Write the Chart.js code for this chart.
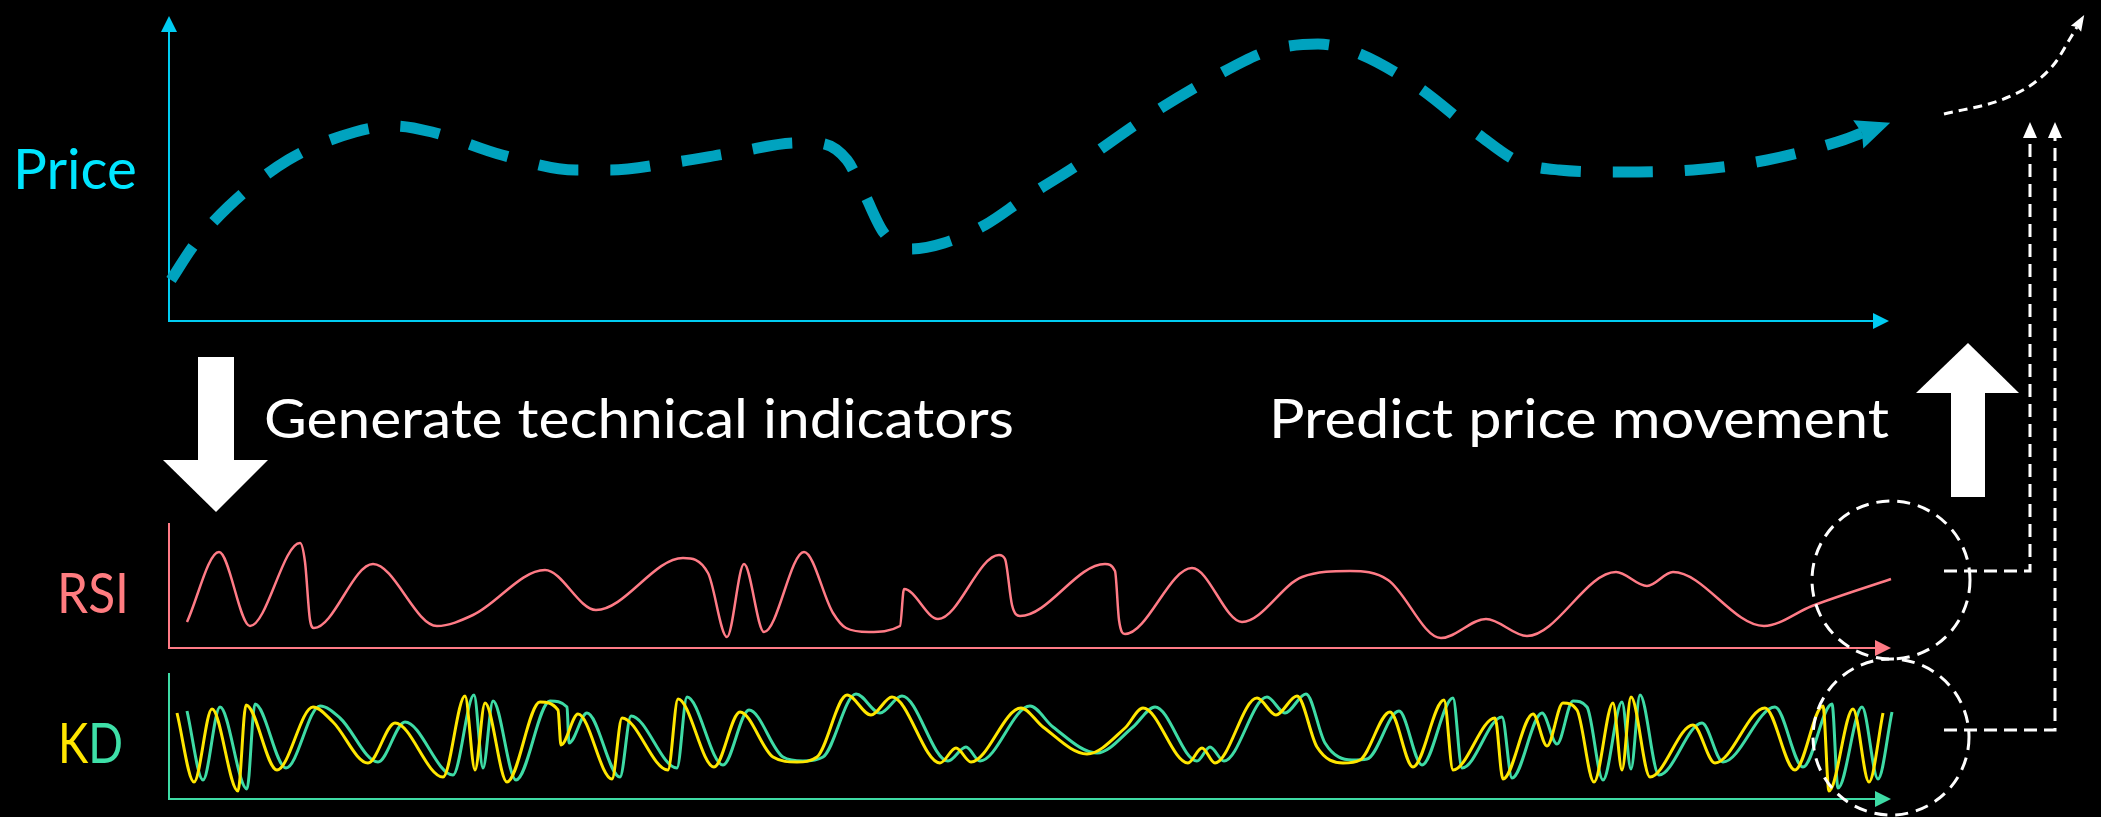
<!DOCTYPE html>
<html>
<head>
<meta charset="utf-8">
<title>Price, RSI and KD</title>
<script src="https://cdn.jsdelivr.net/npm/chart.js@4.4.1/dist/chart.umd.min.js"></script>
<style>
  html, body { margin: 0; background: #000; }
  #stage { position: relative; width: 2101px; height: 817px; overflow: hidden; background: #000; }
  #stage canvas, #stage svg { position: absolute; left: 0; top: 0; }
  text { font-family: Lato, "Open Sans", sans-serif; }
</style>
</head>
<body>
<div id="stage">
  <canvas id="priceChart" width="2101" height="817"></canvas>
  <canvas id="rsiChart" width="2101" height="817"></canvas>
  <canvas id="kdChart" width="2101" height="817"></canvas>
  <svg width="2101" height="817">
    <text x="13" y="189" font-size="57" fill="#00E5FF" textLength="124" lengthAdjust="spacingAndGlyphs">Price</text>
    <text x="57" y="613" font-size="56" fill="#FF7C80" textLength="72" lengthAdjust="spacingAndGlyphs">RSI</text>
    <text x="58" y="763" font-size="56" textLength="65" lengthAdjust="spacingAndGlyphs"><tspan fill="#FFE600">K</tspan><tspan fill="#3EE0A8">D</tspan></text>
    <text x="264" y="438" font-size="54" fill="#FFFFFF" textLength="750" lengthAdjust="spacingAndGlyphs">Generate technical indicators</text>
    <text x="1269" y="438" font-size="54" fill="#FFFFFF" textLength="620" lengthAdjust="spacingAndGlyphs">Predict price movement</text>
  </svg>
</div>
<script>
// time runs from the y axis (0) to the x-axis arrow tip (1722)
const priceT = [2, 25, 59, 119, 186, 226, 263, 333, 407, 441, 501, 568, 628, 648, 678, 695, 715, 742, 775, 816, 856, 904, 981, 1045, 1102, 1149, 1186, 1249, 1310, 1350, 1390, 1450, 1524, 1598, 1668, 1693];
const priceV = [41, 76, 114, 161, 189, 195, 189, 166, 151, 151, 158, 169, 178, 178, 161, 128, 88, 72, 78, 96, 123, 153, 206, 244, 271, 277, 269, 234, 186, 159, 151, 149, 151, 161, 179, 188];

// predicted move, past the end of the price axis
const forecastT = [1775, 1832, 1865, 1886, 1902, 1908];
const forecastV = [207, 221, 238, 258, 284, 294];

const rsiT = [18, 50, 81, 131, 136, 141, 145, 204, 268, 304, 376, 427, 514, 539, 558, 575, 595, 635, 664, 677, 700, 731, 735, 769, 830, 836, 843, 851, 936, 946, 950, 956, 1023, 1073, 1133, 1181, 1219, 1272, 1317, 1358, 1447, 1478, 1504, 1595, 1643, 1722];
const rsiV = [26, 96, 22, 105, 86, 28, 20, 84, 22, 33, 78, 38, 90, 75, 11, 84, 16, 96, 35, 20, 16, 22, 59, 29, 93, 89, 43, 32, 84, 77, 28, 14, 80, 26, 71, 77, 68, 10, 29, 12, 76, 62, 76, 22, 42, 69];

// K line (yellow)
const kT = [8, 25, 43, 69, 77, 108, 144, 164, 199, 226, 274, 296, 306, 316, 338, 371, 389, 392, 409, 443, 453, 499, 509, 545, 571, 604, 628, 648, 678, 702, 723, 771, 787, 802, 852, 874, 918, 956, 974, 1019, 1033, 1046, 1088, 1107, 1128, 1148, 1174, 1191, 1221, 1244, 1275, 1284, 1326, 1334, 1364, 1378, 1394, 1408, 1425, 1444, 1453, 1462, 1481, 1524, 1546, 1596, 1626, 1654, 1660, 1684, 1700, 1714];
const kV = [86, 17, 90, 8, 94, 29, 92, 77, 36, 76, 22, 103, 29, 96, 17, 97, 89, 54, 85, 20, 81, 29, 100, 32, 87, 42, 37, 42, 104, 84, 102, 36, 51, 37, 91, 72, 45, 71, 91, 36, 51, 36, 101, 84, 103, 52, 36, 39, 87, 32, 99, 29, 81, 20, 85, 53, 96, 89, 17, 96, 29, 102, 22, 74, 36, 91, 29, 93, 8, 90, 17, 86];

// D line (green)
const dT = [18, 34, 51, 78, 86, 117, 151, 171, 209, 236, 284, 305, 314, 324, 347, 381, 398, 400, 418, 451, 462, 508, 518, 554, 580, 614, 634, 654, 687, 711, 733, 779, 797, 811, 861, 884, 928, 964, 986, 1028, 1041, 1055, 1098, 1116, 1137, 1156, 1183, 1198, 1230, 1253, 1284, 1293, 1333, 1343, 1373, 1388, 1404, 1418, 1434, 1453, 1462, 1471, 1490, 1533, 1554, 1606, 1634, 1663, 1669, 1693, 1709, 1723];
const dV = [88, 19, 92, 10, 95, 31, 93, 81, 37, 77, 24, 104, 31, 98, 19, 98, 92, 56, 86, 22, 83, 31, 102, 34, 89, 42, 38, 42, 105, 86, 103, 38, 52, 38, 93, 72, 46, 72, 92, 38, 52, 38, 102, 86, 105, 56, 39, 40, 88, 34, 101, 31, 82, 21, 86, 55, 98, 92, 19, 97, 30, 104, 24, 76, 37, 92, 32, 95, 11, 92, 20, 87];

const pts = (xs, ys) => xs.map((x, i) => ({x: x, y: ys[i]}));

function arrowHead(ctx, tx, ty, dx, dy, len, half) {
  const bx = tx - dx * len, by = ty - dy * len;
  ctx.beginPath();
  ctx.moveTo(tx, ty);
  ctx.lineTo(bx - dy * half, by + dx * half);
  ctx.lineTo(bx + dy * half, by - dx * half);
  ctx.closePath();
  ctx.fill();
}

// axis lines with arrow tips, drawn from the panel scales
const axisArrows = {
  id: 'axisArrows',
  beforeDatasetsDraw(chart, args, o) {
    const ctx = chart.ctx, x = chart.scales.x, y = chart.scales.y;
    const left = x.getPixelForValue(0), base = y.getPixelForValue(0);
    const tipX = x.getPixelForValue(o.xTip), topY = y.getPixelForValue(o.yTip);
    ctx.save();
    ctx.strokeStyle = o.color;
    ctx.fillStyle = o.color;
    ctx.lineWidth = 2;
    ctx.beginPath();
    ctx.moveTo(left, o.yHead ? topY + o.yHead - 2 : topY);
    ctx.lineTo(left, base);
    ctx.lineTo(tipX - 6, base);
    ctx.stroke();
    arrowHead(ctx, tipX, base, 1, 0, 16, 8);
    if (o.yHead) arrowHead(ctx, left, topY, 0, -1, o.yHead, 8);
    ctx.restore();
  }
};

// arrow at the end of a dataset line
const lineEnds = {
  id: 'lineEnds',
  afterDatasetsDraw(chart) {
    const ctx = chart.ctx;
    chart.data.datasets.forEach((ds, i) => {
      if (!ds.endArrow) return;
      const els = chart.getDatasetMeta(i).data;
      const p = els[els.length - 1], q = els[els.length - 2];
      let dx = p.x - (p.cp1x !== undefined ? p.cp1x : q.x);
      let dy = p.y - (p.cp1y !== undefined ? p.cp1y : q.y);
      const n = Math.hypot(dx, dy) || 1;
      dx /= n; dy /= n;
      const a = ds.endArrow;
      ctx.save();
      ctx.fillStyle = ds.borderColor;
      ctx.beginPath();
      ctx.moveTo(p.x + dx * a.len, p.y + dy * a.len);
      ctx.lineTo(p.x - dx * a.back - dy * a.half, p.y - dy * a.back + dx * a.half);
      ctx.lineTo(p.x, p.y);
      ctx.lineTo(p.x - dx * a.back + dy * a.half, p.y - dy * a.back - dx * a.half);
      ctx.closePath();
      ctx.fill();
      ctx.restore();
    });
  }
};

// big arrows, dashed circles and connectors
const overlay = {
  id: 'overlay',
  afterDraw(chart) {
    const ctx = chart.ctx;
    ctx.save();
    ctx.fillStyle = '#FFFFFF';
    ctx.fillRect(198, 357, 36, 104);
    ctx.beginPath();
    ctx.moveTo(163, 460); ctx.lineTo(268, 460); ctx.lineTo(216, 512);
    ctx.closePath(); ctx.fill();
    ctx.fillRect(1951, 392, 34, 105);
    ctx.beginPath();
    ctx.moveTo(1916, 393); ctx.lineTo(2019, 393); ctx.lineTo(1968, 343);
    ctx.closePath(); ctx.fill();

    ctx.strokeStyle = '#FFFFFF';
    ctx.lineWidth = 3;
    ctx.setLineDash([13, 8]);
    [[1891, 580, 79], [1891, 737, 78]].forEach(c => {
      ctx.beginPath();
      ctx.arc(c[0], c[1], c[2], 0, Math.PI * 2);
      ctx.stroke();
    });
    ctx.setLineDash([13, 7]);
    ctx.beginPath();
    ctx.moveTo(1944, 571); ctx.lineTo(2030, 571); ctx.lineTo(2030, 136);
    ctx.stroke();
    ctx.beginPath();
    ctx.moveTo(1944, 730); ctx.lineTo(2055, 730); ctx.lineTo(2055, 136);
    ctx.stroke();
    ctx.setLineDash([]);
    arrowHead(ctx, 2030, 122, 0, -1, 16, 7);
    arrowHead(ctx, 2055, 122, 0, -1, 16, 7);
    ctx.restore();
  }
};

function panelOptions(padding, xMax, yMax, axis) {
  return {
    responsive: false,
    animation: false,
    events: [],
    layout: { padding: padding },
    scales: {
      x: { type: 'linear', display: false, min: 0, max: xMax },
      y: { display: false, min: 0, max: yMax }
    },
    plugins: {
      legend: { display: false },
      tooltip: { enabled: false },
      axisArrows: axis
    },
    elements: {
      point: { radius: 0 },
      line: { cubicInterpolationMode: 'monotone', borderCapStyle: 'butt', fill: false }
    }
  };
}

new Chart(document.getElementById('priceChart'), {
  type: 'line',
  data: {
    datasets: [
      { data: pts(priceT, priceV), borderColor: '#00A3BF', borderWidth: 11, borderDash: [40, 32], clip: false,
        endArrow: { len: 30, half: 15, back: 4 } },
      { data: pts(forecastT, forecastV), borderColor: '#FFFFFF', borderWidth: 3, borderDash: [9, 6], clip: false,
        endArrow: { len: 14, half: 6, back: 2 } }
    ]
  },
  options: panelOptions({ left: 169, top: 0, right: 0, bottom: 496 }, 1932, 321,
    { color: '#00CCF2', xTip: 1720, yTip: 305, yHead: 16 }),
  plugins: [axisArrows, lineEnds]
});

new Chart(document.getElementById('rsiChart'), {
  type: 'line',
  data: {
    datasets: [
      { data: pts(rsiT, rsiV), borderColor: '#FF7B86', borderWidth: 2.5, clip: false }
    ]
  },
  options: panelOptions({ left: 169, top: 523, right: 210, bottom: 169 }, 1722, 125,
    { color: '#FF7B86', xTip: 1722, yTip: 125, yHead: 0 }),
  plugins: [axisArrows]
});

new Chart(document.getElementById('kdChart'), {
  type: 'line',
  data: {
    datasets: [
      { data: pts(kT, kV), borderColor: '#FFE600', borderWidth: 3, clip: false },
      { data: pts(dT, dV), borderColor: '#3EDBA5', borderWidth: 3, clip: false }
    ]
  },
  options: panelOptions({ left: 169, top: 673, right: 210, bottom: 18 }, 1722, 126,
    { color: '#3EDBA5', xTip: 1722, yTip: 126, yHead: 0 }),
  plugins: [axisArrows, overlay]
});
</script>
</body>
</html>
